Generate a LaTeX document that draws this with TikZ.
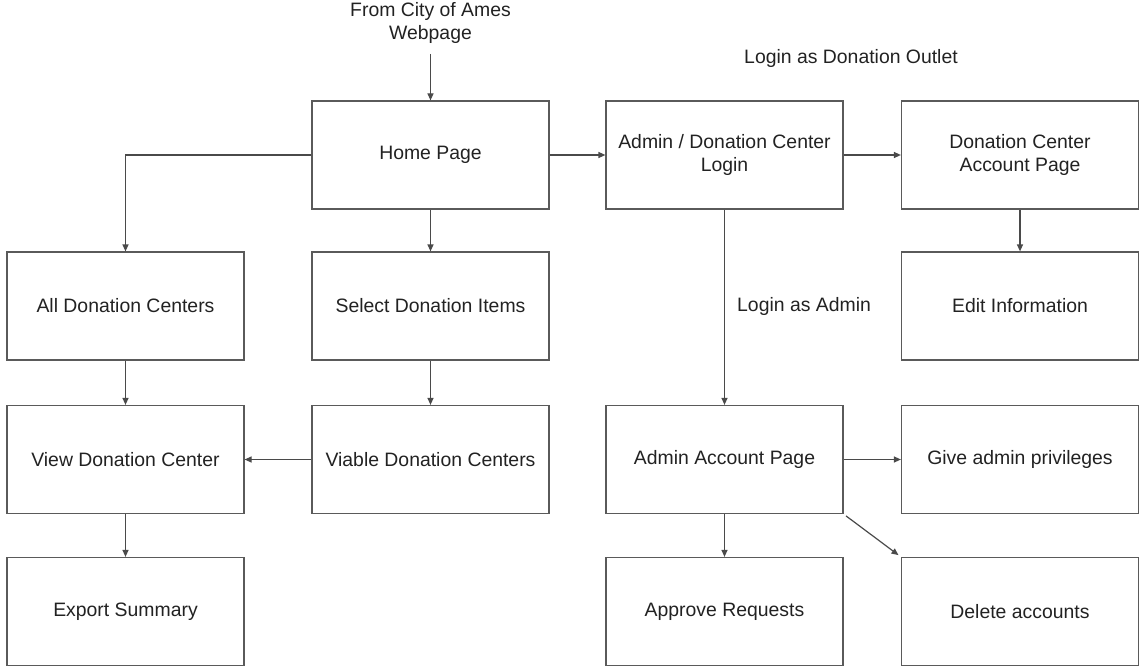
\documentclass[tikz,border=0pt]{standalone}
\usepackage{fontspec}
\setmainfont{Liberation Sans}
\usepackage{xcolor}
\usepackage{tikz}
\usetikzlibrary{arrows.meta,positioning,calc}
\definecolor{Ink}{HTML}{222222}
\definecolor{Wire}{HTML}{4A4A4A}
\definecolor{Frame}{HTML}{5A5A5A}

\begin{document}
\begin{tikzpicture}[
  x=1pt,y=-1pt,
  page/.style={draw=Frame,fill=white,line width=1.2pt,minimum width=237pt,minimum height=108pt,align=center,font=\fontsize{19.4}{23}\selectfont\color{Ink}},
  note/.style={align=center,inner sep=0pt,font=\fontsize{19.4}{23}\selectfont\color{Ink}},
  link/.style={-{Triangle[length=7pt,width=6pt]},line width=1.2pt,draw=Wire}
]
  \useasboundingbox (0,0) rectangle (1141,669);
  \node[page] (home)    at (430.5,155)   {Home Page};
  \node[page] (login)   at (724.5,155)   {Admin / Donation Center\\Login};
  \node[page] (account) at (1020,155)    {Donation Center\\Account Page};
  \node[page] (all)     at (125.5,306)   {All Donation Centers};
  \node[page] (select)  at (430.5,306)   {Select Donation Items};
  \node[page] (edit)    at (1020,306)    {Edit Information};
  \node[page] (view)    at (125.5,459.5) {View Donation Center};
  \node[page] (viable)  at (430.5,459.5) {Viable Donation Centers};
  \node[page] (admin)   at (724.5,459.5) {Admin Account Page};
  \node[page] (give)    at (1020,459.5)  {Give admin privileges};
  \node[page] (export)  at (125.5,611.5) {Export Summary};
  \node[page] (approve) at (724.5,611.5) {Approve Requests};
  \node[page] (delete)  at (1020,611.5)  {Delete accounts};
  % free texts
  \node[note] (city)   at (430.5,23)  {From City of Ames\\Webpage};
  \node[note] (outlet) at (851,58)    {Login as Donation Outlet};
  \node[note,anchor=west] (asadmin) at (737,306) {Login as Admin};
  \coordinate (src) at (430.5,54);
  % links
  \draw[link] (src) -- (home);
  \draw[link] (home.west) -| (all.north);
  \draw[link] (home) -- (select);
  \draw[link] (home) -- (login);
  \draw[link] (login) -- (account);
  \draw[link] (account) -- (edit);
  \draw[link] (login) -- (admin);
  \draw[link] (all) -- (view);
  \draw[link] (select) -- (viable);
  \draw[link] (viable) -- (view);
  \draw[link] (view) -- (export);
  \draw[link] (admin) -- (approve);
  \draw[link] (admin) -- (give);
  \draw[link,shorten <=3pt,shorten >=3pt] (admin.south east) -- (delete.north west);
\end{tikzpicture}
\end{document}
